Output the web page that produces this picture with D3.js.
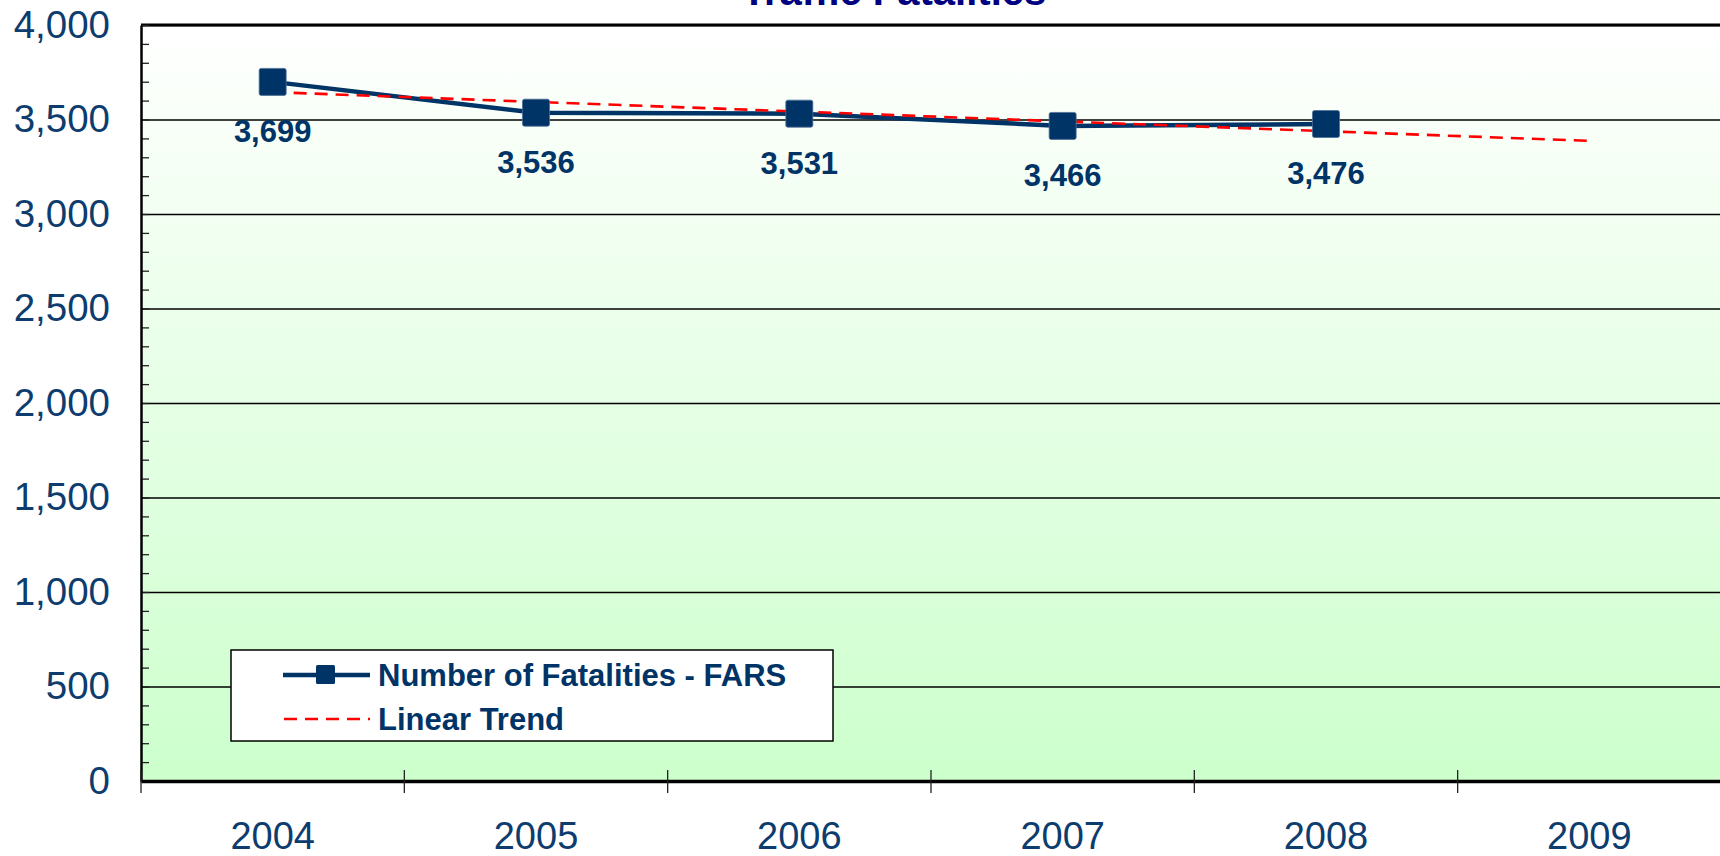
<!DOCTYPE html>
<html lang="en">
  <head>
    <meta charset="utf-8">
    <script src="https://d3js.org/d3.v7.min.js"></script>
    <style>
      body { margin: 0; background: #fff; }
      text { font-family: "Liberation Sans", Arial, sans-serif; }
    </style>
  </head>
  <body>
    <div id="chart">
      <svg width="1720" height="856"></svg>
    </div>
    <script type="text/javascript">
      // Data
      var years = ["2004", "2005", "2006", "2007", "2008", "2009"];
      var fatalYears = ["2004", "2005", "2006", "2007", "2008"];
      var fatalities = [3699, 3536, 3531, 3466, 3476];
      var trend = [3645, 3593, 3542, 3490, 3438, 3387];
      var yTicks = [0, 500, 1000, 1500, 2000, 2500, 3000, 3500, 4000];
      var legendLabels = ["Number of Fatalities - FARS", "Linear Trend"];

      var svg = d3.select("svg"),
        width = +svg.attr("width"),
        height = +svg.attr("height");
      var margin = {top: 25, left: 141, bottom: 75};
      var bandW = 263.33;
      var plotRight = margin.left + bandW * years.length;
      var plotBottom = height - margin.bottom;
      var navy = "#003366";
      var textColor = "#0d3c6e";

      // Scales
      var xScale = d3.scaleBand()
        .domain(years)
        .range([margin.left, plotRight]);
      var yScale = d3.scaleLinear()
        .domain([0, 4000])
        .range([plotBottom, margin.top]);

      // Background gradient
      var grad = svg.append("defs").append("linearGradient")
        .attr("id", "bg")
        .attr("x1", 0).attr("y1", 0).attr("x2", 0).attr("y2", 1);
      grad.append("stop").attr("offset", "0%").attr("stop-color", "#ffffff");
      grad.append("stop").attr("offset", "100%").attr("stop-color", "#ccffcc");
      svg.append("rect")
        .attr("x", margin.left)
        .attr("y", margin.top)
        .attr("width", plotRight - margin.left)
        .attr("height", plotBottom - margin.top)
        .attr("fill", "url(#bg)");

      // Gridlines
      var grid = svg.append("g")
        .attr("transform", `translate(${margin.left},0)`)
        .call(d3.axisLeft(yScale).tickValues(yTicks).tickSize(-(plotRight - margin.left)).tickFormat(""));
      grid.select(".domain").remove();
      grid.selectAll("line").attr("stroke", "#000").attr("stroke-width", 1.3);

      // Top border
      svg.append("line")
        .attr("x1", margin.left).attr("x2", plotRight)
        .attr("y1", yScale(4000)).attr("y2", yScale(4000))
        .attr("stroke", "#000").attr("stroke-width", 3);

      // Minor ticks (every 100) pointing inward
      var minor = svg.append("g")
        .attr("transform", `translate(${margin.left},0)`)
        .call(d3.axisRight(yScale).tickValues(d3.range(0, 4001, 100)).tickSize(8).tickFormat(""));
      minor.select(".domain").remove();
      minor.selectAll("line").attr("stroke", "#222").attr("stroke-width", 1.3);

      // Y axis labels
      var yAxis = svg.append("g")
        .attr("transform", `translate(${margin.left},0)`)
        .call(d3.axisLeft(yScale).tickValues(yTicks).tickSize(0).tickPadding(31).tickFormat(d3.format(",")));
      yAxis.select(".domain").attr("stroke", "#000").attr("stroke-width", 2.5);
      yAxis.selectAll("text")
        .style("font-family", '"Liberation Sans", Arial, sans-serif')
        .attr("font-size", 38.5)
        .attr("fill", textColor);

      // X axis
      var xAxis = svg.append("g")
        .attr("transform", `translate(0,${plotBottom})`)
        .call(d3.axisBottom(xScale).tickSize(0).tickPadding(0));
      xAxis.select(".domain").attr("stroke", "#000").attr("stroke-width", 3.5);
      xAxis.selectAll("text")
        .style("font-family", '"Liberation Sans", Arial, sans-serif')
        .attr("font-size", 38)
        .attr("dy", 0)
        .attr("y", 68)
        .attr("fill", textColor);
      // Category boundary ticks
      var bounds = years.map(function(y) { return xScale(y); }).concat([plotRight]);
      svg.append("g").selectAll("line")
        .data(bounds)
        .enter().append("line")
        .attr("x1", function(d) { return d; })
        .attr("x2", function(d) { return d; })
        .attr("y1", plotBottom - 11)
        .attr("y2", plotBottom + 12)
        .attr("stroke", "#222")
        .attr("stroke-width", 1.3);

      var cx = function(y) { return xScale(y) + xScale.bandwidth() / 2; };

      // Fatalities line
      var fatalData = fatalYears.map(function(y, i) { return {year: y, value: fatalities[i]}; });
      var line = d3.line()
        .x(function(d) { return cx(d.year); })
        .y(function(d) { return yScale(d.value); });
      svg.append("path")
        .datum(fatalData)
        .attr("d", line)
        .attr("fill", "none")
        .attr("stroke", navy)
        .attr("stroke-width", 4.5);

      // Trend line
      var trendData = years.map(function(y, i) { return {year: y, value: trend[i]}; });
      svg.append("path")
        .datum(trendData)
        .attr("d", line)
        .attr("fill", "none")
        .attr("stroke", "#ff0000")
        .attr("stroke-width", 2.6)
        .attr("stroke-dasharray", "13,8");

      // Markers
      svg.append("g").selectAll("rect")
        .data(fatalData)
        .enter().append("rect")
        .attr("x", function(d) { return cx(d.year) - 13.5; })
        .attr("y", function(d) { return yScale(d.value) - 13.5; })
        .attr("width", 27)
        .attr("height", 27)
        .attr("rx", 2)
        .attr("fill", navy)
        .attr("stroke", "#4d6f96")
        .attr("stroke-width", 0.8);

      // Data labels
      svg.append("g").selectAll("text")
        .data(fatalData)
        .enter().append("text")
        .attr("x", function(d) { return cx(d.year); })
        .attr("y", function(d) { return yScale(d.value) + 60; })
        .attr("text-anchor", "middle")
        .attr("font-size", 31)
        .attr("font-weight", "bold")
        .attr("fill", navy)
        .text(function(d) { return d3.format(",")(d.value); });

      // Title (cut off at the top, as in the source)
      svg.append("text")
        .attr("x", 894)
        .attr("y", 5)
        .attr("text-anchor", "middle")
        .attr("font-size", 40)
        .attr("font-weight", "bold")
        .attr("fill", "#000080")
        .text("Traffic Fatalities");

      // Legend
      var legend = svg.append("g");
      legend.append("rect")
        .attr("x", 231).attr("y", 650)
        .attr("width", 602).attr("height", 91)
        .attr("fill", "#fff")
        .attr("stroke", "#000")
        .attr("stroke-width", 1.5);
      legend.append("line")
        .attr("x1", 283).attr("x2", 370)
        .attr("y1", 675).attr("y2", 675)
        .attr("stroke", navy).attr("stroke-width", 4.5);
      legend.append("rect")
        .attr("x", 316).attr("y", 665)
        .attr("width", 19).attr("height", 19)
        .attr("rx", 1.5)
        .attr("fill", navy);
      legend.append("line")
        .attr("x1", 284).attr("x2", 370)
        .attr("y1", 719).attr("y2", 719)
        .attr("stroke", "#ff0000").attr("stroke-width", 2.6)
        .attr("stroke-dasharray", "13,8");
      legend.selectAll("text.lg")
        .data(legendLabels)
        .enter().append("text")
        .attr("class", "lg")
        .attr("x", 378)
        .attr("y", function(d, i) { return 686 + i * 44; })
        .attr("font-size", 31)
        .attr("font-weight", "bold")
        .attr("fill", navy)
        .text(function(d) { return d; });
    </script>
  </body>
</html>
